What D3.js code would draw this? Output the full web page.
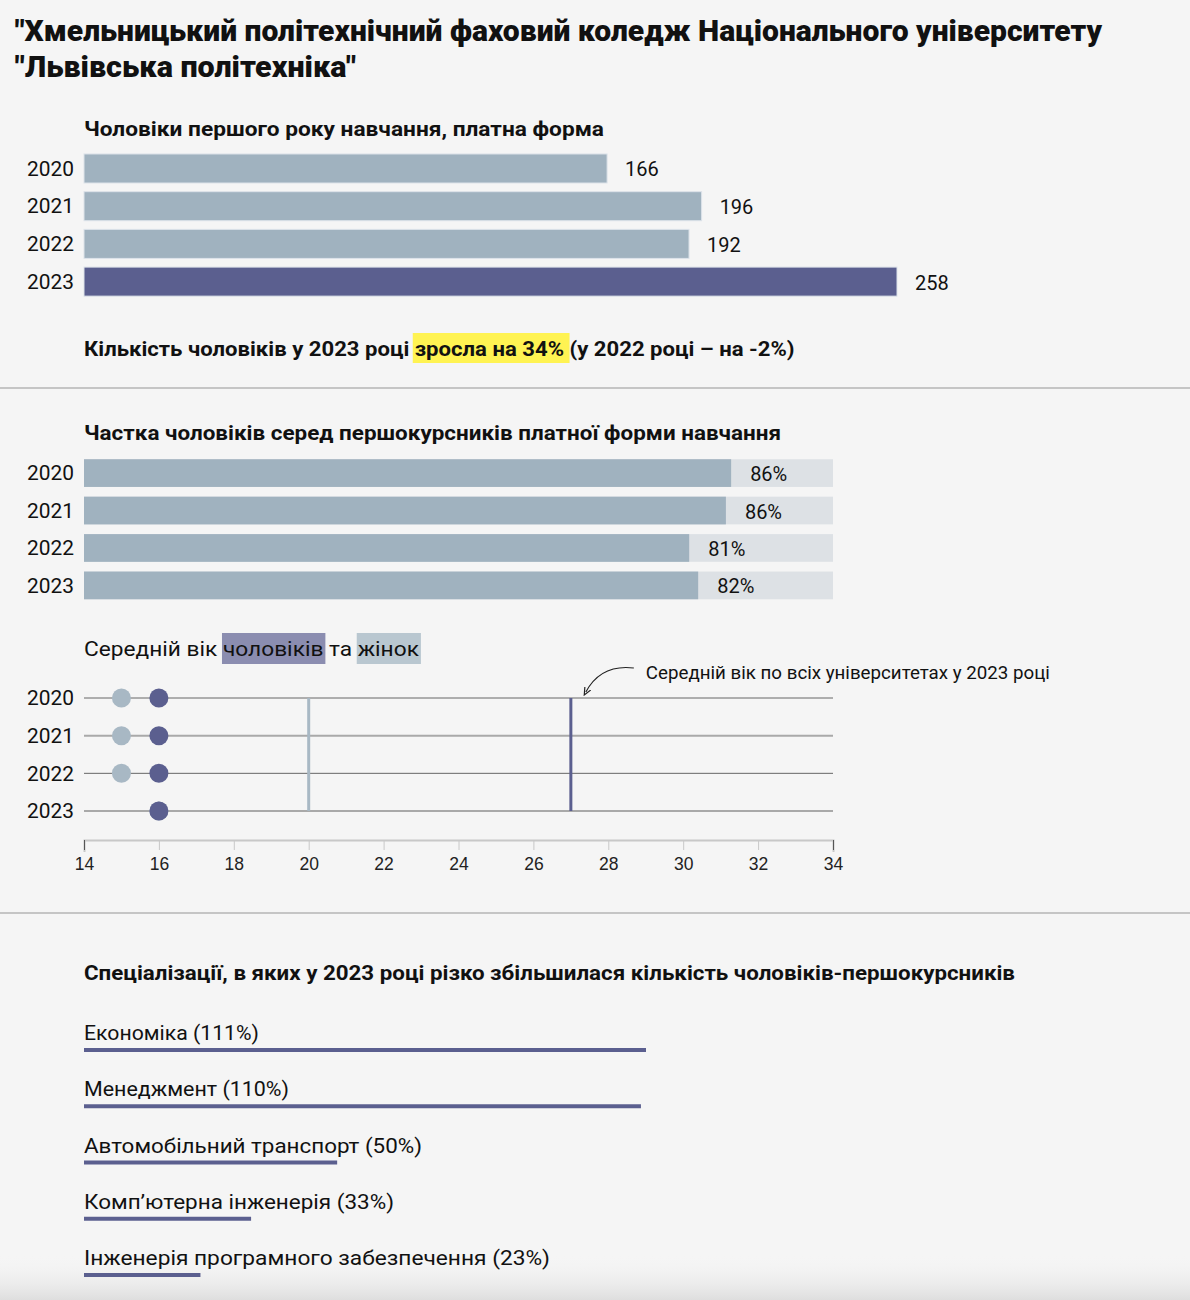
<!DOCTYPE html>
<html>
<head>
<meta charset="utf-8">
<script src="https://cdn.jsdelivr.net/npm/d3@7"></script>
<style>
  body { margin: 0; background: #f5f5f5; }
  svg { display: block; font-family: Roboto, "Noto Sans", sans-serif; }
</style>
</head>
<body>
<svg id="chart" width="1190" height="1300"></svg>
<script>
const years = ['2020', '2021', '2022', '2023'];

// чоловіки першого року, платна форма
const menCounts = [166, 196, 192, 258];

// частка чоловіків, %
const menShare = [86.4, 85.7, 80.8, 82.0];

// середній вік
const ageWomen = [15, 15, 15, 16];
const ageMen = [16, 16, 16, 16];
const ageTicks = [14, 16, 18, 20, 22, 24, 26, 28, 30, 32, 34];
const avgAllWomen = 20;
const avgAllMen = 27;

// спеціалізації
const specNames = ['Економіка', 'Менеджмент', 'Автомобільний транспорт', 'Комп’ютерна інженерія', 'Інженерія програмного забезпечення'];
const specGrowth = [111, 110, 50, 33, 23];

const colors = {
	light: '#a0b2bf',
	dark: '#5b5f8f',
	track: '#dde1e5',
	women: '#a8b8c4',
	text: '#111'
};

const svg = d3.select('#chart');

// нижня тінь
const defs = svg.append('defs');
const grad = defs.append('linearGradient').attr('id', 'shade').attr('x1', 0).attr('x2', 0).attr('y1', 0).attr('y2', 1);
grad.append('stop').attr('offset', 0).attr('stop-color', '#f5f5f5').attr('stop-opacity', 0);
grad.append('stop').attr('offset', 1).attr('stop-color', '#dedede').attr('stop-opacity', 1);
defs.append('marker').attr('id', 'arrow')
	.attr('viewBox', '0 0 10 10').attr('refX', 5).attr('refY', 5)
	.attr('markerWidth', 7).attr('markerHeight', 7).attr('orient', 'auto-start-reverse')
	.append('path').attr('d', 'M0,1 L9,5 L0,9').attr('fill', 'none').attr('stroke', '#222').attr('stroke-width', 1.4);

svg.append('rect').attr('x', 0).attr('y', 1255).attr('width', 1190).attr('height', 45).attr('fill', 'url(#shade)');

// заголовок
const title = svg.append('text').attr('x', 15).attr('font-size', 30).attr('font-weight', 900).attr('fill', colors.text);
title.append('tspan').attr('x', 15).attr('y', 41).attr('textLength', 1087).attr('lengthAdjust', 'spacingAndGlyphs')
	.text('"Хмельницький політехнічний фаховий коледж Національного університету');
title.append('tspan').attr('x', 15).attr('y', 77).attr('textLength', 341).attr('lengthAdjust', 'spacingAndGlyphs')
	.text('"Львівська політехніка"');

const left = 84;
const yearLabel = (g, y, band) => {
	g.selectAll('text.year').data(years).join('text')
		.attr('class', 'year')
		.attr('x', 74).attr('y', d => y(d) + (band ? y.bandwidth() / 2 : 0))
		.attr('dy', '0.36em').attr('text-anchor', 'end')
		.attr('font-size', 20).attr('fill', colors.text)
		.attr('textLength', 47).attr('lengthAdjust', 'spacingAndGlyphs')
		.text(d => d);
};

// ---- графік 1
const g1 = svg.append('g');
g1.append('text').attr('x', left).attr('y', 136).attr('font-size', 20).attr('font-weight', 700).attr('fill', colors.text)
	.attr('textLength', 520).attr('lengthAdjust', 'spacingAndGlyphs')
	.text('Чоловіки першого року навчання, платна форма');

const x1 = d3.scaleLinear().domain([0, 258]).range([left, 897]);
const y1 = d3.scaleBand().domain(years).range([145.3, 304.8]).padding(0.23);

g1.selectAll('rect.bar').data(menCounts).join('rect')
	.attr('class', 'bar')
	.attr('x', x1(0)).attr('y', (d, i) => y1(years[i]))
	.attr('width', d => x1(d) - x1(0)).attr('height', y1.bandwidth())
	.attr('fill', (d, i) => i === years.length - 1 ? colors.dark : colors.light)
	.attr('stroke', '#dde3ea').attr('stroke-width', 1);
g1.selectAll('text.val').data(menCounts).join('text')
	.attr('class', 'val')
	.attr('x', d => x1(d) + 18).attr('y', (d, i) => y1(years[i]) + y1.bandwidth() / 2)
	.attr('dy', '0.4em').attr('font-size', 20).attr('fill', colors.text)
	.text(d => d);
yearLabel(g1, y1, true);

// підсумок
const noteY = 356;
const change23 = Math.round((menCounts[3] / menCounts[2] - 1) * 100);
const change22 = Math.round((menCounts[2] / menCounts[1] - 1) * 100);
const note = svg.append('g');
const noteText = note.append('text').attr('x', left).attr('y', noteY).attr('font-size', 20).attr('font-weight', 700).attr('fill', colors.text);
const pre = 'Кількість чоловіків у 2023 році ';
noteText.append('tspan').text(pre);
const hl = noteText.append('tspan').text(`зросла на ${change23}%`);
noteText.append('tspan').text(` (у 2022 році – на ${change22}%)`);
const full = noteText.node().getComputedTextLength();
const scaleNote = 711 / full;
noteText.attr('transform', `translate(${left},0) scale(${scaleNote},1) translate(${-left},0)`);
const hlStart = noteText.node().getStartPositionOfChar(pre.length).x;
const hlEnd = noteText.node().getEndPositionOfChar(pre.length + hl.text().length).x;
note.insert('rect', 'text')
	.attr('x', left + (hlStart - left) * scaleNote - 2).attr('y', noteY - 23)
	.attr('width', (hlEnd - hlStart) * scaleNote + 2).attr('height', 30)
	.attr('fill', '#fff352');

// розділювачі
[388, 913].forEach(y => {
	svg.append('line').attr('x1', 0).attr('x2', 1190).attr('y1', y).attr('y2', y)
		.attr('stroke', '#b4b4b4').attr('stroke-width', 1.5);
});

// ---- графік 2
const g2 = svg.append('g');
g2.append('text').attr('x', left).attr('y', 440).attr('font-size', 20).attr('font-weight', 700).attr('fill', colors.text)
	.attr('textLength', 697).attr('lengthAdjust', 'spacingAndGlyphs')
	.text('Частка чоловіків серед першокурсників платної форми навчання');

const x2 = d3.scaleLinear().domain([0, 100]).range([left, 833]);
const y2 = d3.scaleBand().domain(years).range([449.5, 609]).padding(0.26);

g2.selectAll('rect.track').data(years).join('rect')
	.attr('class', 'track')
	.attr('x', x2(0)).attr('y', d => y2(d))
	.attr('width', x2(100) - x2(0)).attr('height', y2.bandwidth())
	.attr('fill', colors.track);
g2.selectAll('rect.bar').data(menShare).join('rect')
	.attr('class', 'bar')
	.attr('x', x2(0)).attr('y', (d, i) => y2(years[i]))
	.attr('width', d => x2(d) - x2(0)).attr('height', y2.bandwidth())
	.attr('fill', colors.light);
g2.selectAll('text.val').data(menShare).join('text')
	.attr('class', 'val')
	.attr('x', d => x2(d) + 19).attr('y', (d, i) => y2(years[i]) + y2.bandwidth() / 2)
	.attr('dy', '0.4em').attr('font-size', 20).attr('fill', colors.text)
	.text(d => d3.format('.0f')(d) + '%');
yearLabel(g2, y2, true);

// ---- графік 3
const g3 = svg.append('g');
const t3y = 656;
const t3 = g3.append('text').attr('x', left).attr('y', t3y).attr('font-size', 21).attr('fill', colors.text);
t3.append('tspan').text('Середній вік ');
t3.append('tspan').attr('class', 'm').text('чоловіків');
t3.append('tspan').text(' та ');
t3.append('tspan').attr('class', 'w').text('жінок');
const t3full = t3.node().getComputedTextLength();
const s3 = 335 / t3full;
t3.attr('transform', `translate(${left},0) scale(${s3},1) translate(${-left},0)`);
const pos = (a, b) => [t3.node().getStartPositionOfChar(a).x, t3.node().getEndPositionOfChar(b).x];
const mPos = pos(13, 21);
const wPos = pos(26, 30);
[[mPos, '#8b8db0'], [wPos, '#b9c7d0']].forEach(([p, c]) => {
	g3.insert('rect', 'text')
		.attr('x', left + (p[0] - left) * s3 - 1).attr('y', t3y - 23)
		.attr('width', (p[1] - p[0]) * s3 + 3).attr('height', 31)
		.attr('fill', c);
});

const x3 = d3.scaleLinear().domain([14, 34]).range([left, 833]);
const y3 = d3.scalePoint().domain(years).range([698, 811]);

g3.selectAll('line.row').data(years).join('line')
	.attr('class', 'row')
	.attr('x1', x3(14)).attr('x2', x3(34))
	.attr('y1', d => y3(d)).attr('y2', d => y3(d))
	.attr('stroke', (d, i) => i % 2 ? '#a9a9a9' : '#666')
	.attr('stroke-width', (d, i) => i % 2 ? 2 : 1);

g3.append('line')
	.attr('x1', x3(avgAllWomen)).attr('x2', x3(avgAllWomen))
	.attr('y1', y3(years[0])).attr('y2', y3(years[3]))
	.attr('stroke', colors.women).attr('stroke-width', 3);
g3.append('line')
	.attr('x1', x3(avgAllMen)).attr('x2', x3(avgAllMen))
	.attr('y1', y3(years[0])).attr('y2', y3(years[3]))
	.attr('stroke', colors.dark).attr('stroke-width', 3);

g3.selectAll('circle.w').data(ageWomen).join('circle')
	.attr('class', 'w')
	.attr('cx', d => x3(d)).attr('cy', (d, i) => y3(years[i])).attr('r', 9.5)
	.attr('fill', colors.women);
g3.selectAll('circle.m').data(ageMen).join('circle')
	.attr('class', 'm')
	.attr('cx', d => x3(d)).attr('cy', (d, i) => y3(years[i])).attr('r', 9.5)
	.attr('fill', colors.dark);
yearLabel(g3, y3, false);

// анотація
const ax = x3(avgAllMen), ay = y3(years[0]);
g3.append('path')
	.attr('d', `M${ax + 63},${ay - 30} Q${ax + 30},${ay - 34} ${ax + 15},${ay - 6}`)
	.attr('fill', 'none').attr('stroke', '#222').attr('stroke-width', 1.2)
	.attr('marker-end', 'url(#arrow)');
g3.append('text').attr('x', ax + 75).attr('y', ay - 19).attr('font-size', 18).attr('fill', colors.text)
	.attr('textLength', 404).attr('lengthAdjust', 'spacingAndGlyphs')
	.text('Середній вік по всіх університетах у 2023 році');

const axis3 = g3.append('g').attr('transform', 'translate(0,840)')
	.call(d3.axisBottom(x3).tickValues(ageTicks).tickSize(10).tickSizeOuter(12).tickPadding(8));
axis3.select('.domain').attr('stroke', '#c8c8c8').attr('stroke-width', 2);
axis3.selectAll('.tick line').attr('stroke', '#c8c8c8');
axis3.selectAll('.tick:first-of-type line, .tick:last-of-type line').attr('stroke', '#555');
axis3.selectAll('.tick text').attr('font-family', '"Liberation Sans", Arial, sans-serif').attr('font-size', 17.5).attr('fill', '#222');

// ---- графік 4
const g4 = svg.append('g');
g4.append('text').attr('x', left).attr('y', 980).attr('font-size', 20).attr('font-weight', 700).attr('fill', colors.text)
	.attr('textLength', 931).attr('lengthAdjust', 'spacingAndGlyphs')
	.text('Спеціалізації, в яких у 2023 році різко збільшилася кількість чоловіків-першокурсників');

const x4 = d3.scaleLinear().domain([0, 111]).range([left, 646]);
const y4 = d3.scalePoint().domain(specNames).range([1050, 1275]);
const specWidths = [175, 205, 338, 310, 466];

g4.selectAll('text.spec').data(specNames).join('text')
	.attr('class', 'spec')
	.attr('x', left).attr('y', d => y4(d) - 10)
	.attr('font-size', 20).attr('fill', colors.text)
	.attr('textLength', (d, i) => specWidths[i]).attr('lengthAdjust', 'spacingAndGlyphs')
	.text((d, i) => `${d} (${specGrowth[i]}%)`);
g4.selectAll('line.spec').data(specGrowth).join('line')
	.attr('class', 'spec')
	.attr('x1', x4(0)).attr('x2', d => x4(d))
	.attr('y1', (d, i) => y4(specNames[i])).attr('y2', (d, i) => y4(specNames[i]))
	.attr('stroke', colors.dark).attr('stroke-width', 4);
</script>
</body>
</html>
